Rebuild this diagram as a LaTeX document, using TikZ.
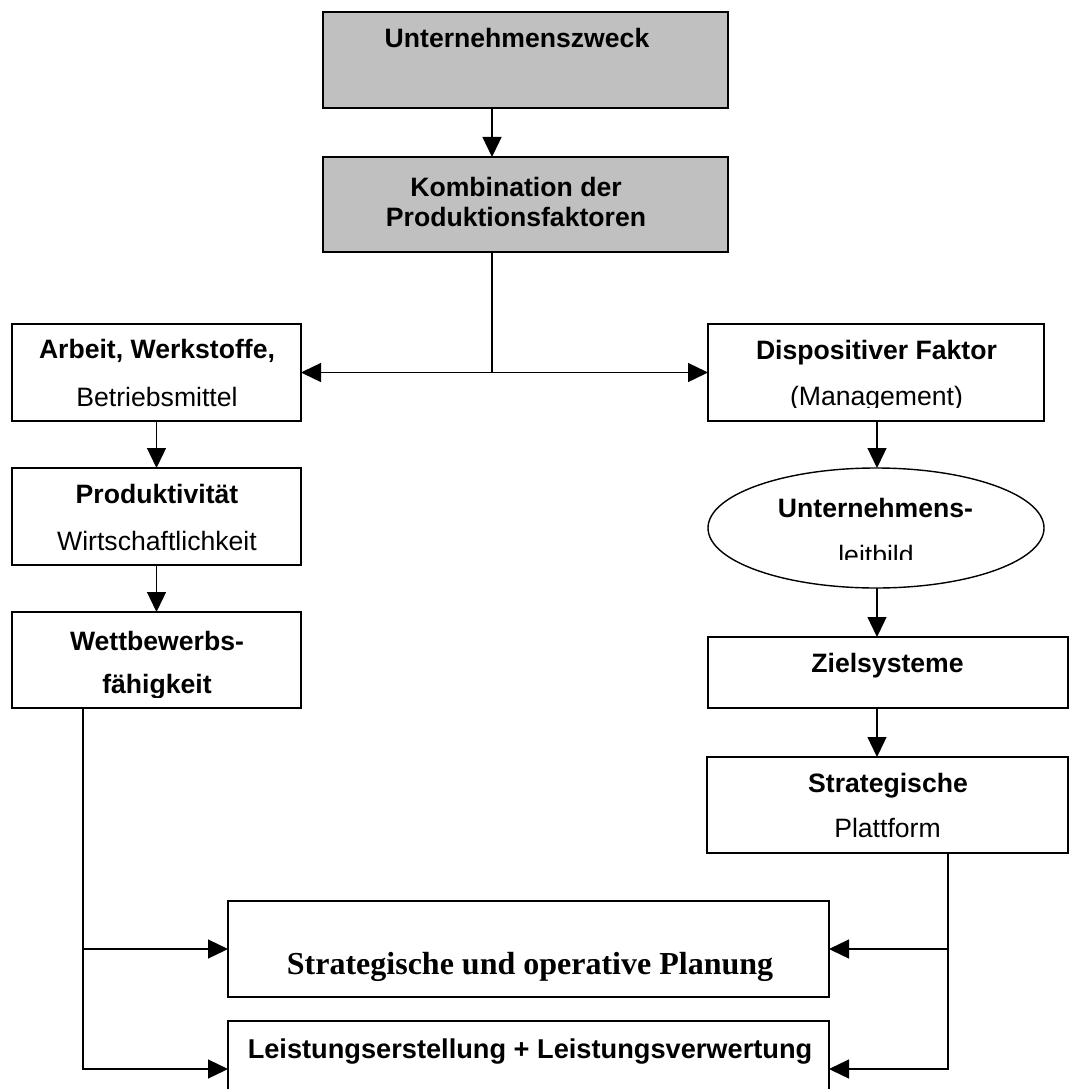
\documentclass[tikz,border=0pt]{standalone}
\usepackage{fontspec}
\setmainfont{Liberation Sans}
\newfontfamily\timesf{Liberation Serif}
\usetikzlibrary{arrows.meta,shapes.geometric}
\begin{document}
\begin{tikzpicture}[x=1pt,y=-1pt,
  boxstyle/.style={draw,line width=1.7pt,rectangle,inner sep=0pt,outer sep=0pt},
  greybox/.style={boxstyle,fill=boxgrey},
  ovalstyle/.style={draw,line width=1.4pt,ellipse,inner sep=0pt,outer sep=0pt},
  conn/.style={line width=1.3pt},
  arr/.style={conn,-{Triangle[length=20pt,width=19pt]}},
  bt/.style={font=\fontsize{26.6}{30}\selectfont\bfseries,anchor=base,inner sep=0pt},
  rt/.style={font=\fontsize{26.6}{30}\selectfont,anchor=base,inner sep=0pt},
  tt/.style={font=\fontsize{32}{36}\selectfont\timesf\bfseries,anchor=base,inner sep=0pt}
]
\definecolor{boxgrey}{RGB}{192,192,192}
\useasboundingbox (0,0) rectangle (1073,1089);

% boxes
\node[greybox,minimum width=405pt,minimum height=96pt] (zweck) at (525.5,60) {};
\node[greybox,minimum width=405pt,minimum height=95pt] (kombi) at (525.5,204.5) {};
\node[boxstyle,minimum width=289pt,minimum height=97pt] (arbeit) at (156.5,372.5) {};
\node[boxstyle,minimum width=289pt,minimum height=97pt] (prod) at (156.5,516.5) {};
\node[boxstyle,minimum width=289pt,minimum height=96pt] (wett) at (156.5,660) {};
\node[boxstyle,minimum width=336pt,minimum height=97pt] (disp) at (876,372.5) {};
\node[ovalstyle,minimum width=336pt,minimum height=120pt] (leit) at (876,528) {};
\node[boxstyle,minimum width=360pt,minimum height=71pt] (ziel) at (888,672.5) {};
\node[boxstyle,minimum width=361pt,minimum height=96pt] (strat) at (887.5,805) {};
\node[boxstyle,minimum width=601pt,minimum height=96pt] (plan) at (528.5,949) {};
\node[boxstyle,minimum width=601pt,minimum height=96pt] (leist) at (528.5,1069) {};

% texts
\node[bt] (t1) at (517,48) {Unternehmenszweck};
\node[bt] (t2) at (516,196) {Kombination der};
\node[bt] (t3) at (516,226) {Produktionsfaktoren};
\node[bt] (t4) at (157,358) {Arbeit, Werkstoffe,};
\node[rt] (t5) at (157,406) {Betriebsmittel};
\node[bt] (t6) at (157,503) {Produktivität};
\node[rt] (t7) at (157,550) {Wirtschaftlichkeit};
\node[bt] (t8) at (157,650) {Wettbewerbs-};
\begin{scope}
  \clip (20,660) rectangle (290,697);
  \node[bt] (t9) at (157,693) {fähigkeit};
\end{scope}
\node[bt] (t10) at (876.5,359) {Dispositiver Faktor};
\begin{scope}
  \clip (720,370) rectangle (1030,407);
  \node[rt] (t11) at (876.5,405) {(Management)};
\end{scope}
\node[bt] (t12) at (875.5,517) {Unternehmens-};
\begin{scope}
  \clip (720,520) rectangle (1030,559);
  \node[rt] (t13) at (876,564) {leitbild};
\end{scope}
\node[bt] (t14) at (887.5,672) {Zielsysteme};
\node[bt] (t15) at (888,792) {Strategische};
\node[rt] (t16) at (887.5,837) {Plattform};
\node[tt] (t17) at (530,974) {Strategische und operative Planung};
\node[bt,font=\fontsize{27.2}{30}\selectfont\bfseries] (t18) at (530,1058) {Leistungserstellung + Leistungsverwertung};

% helper coordinates
\coordinate (cx) at (492,0);
\coordinate (dx) at (877,0);
\coordinate (lx) at (83,0);
\coordinate (rx) at (948,0);
\coordinate (j) at (492,372.5);

% connectors
\draw[arr] (cx |- zweck.south) -- (cx |- kombi.north);
\draw[conn] (cx |- kombi.south) -- (j);
\draw[arr] (j) -- (arbeit.east);
\draw[arr] (j) -- (disp.west);
\draw[arr] (arbeit.south) -- (prod.north);
\draw[arr] (prod.south) -- (wett.north);
\draw[arr] (dx |- disp.south) -- (dx |- leit.north);
\draw[arr] (dx |- leit.south) -- (dx |- ziel.north);
\draw[arr] (dx |- ziel.south) -- (dx |- strat.north);
\draw[arr] (lx |- wett.south) -- (lx |- leist.west) -- (leist.west);
\draw[arr] (lx |- plan.west) -- (plan.west);
\draw[arr] (rx |- strat.south) -- (rx |- leist.east) -- (leist.east);
\draw[arr] (rx |- plan.east) -- (plan.east);
\end{tikzpicture}
\end{document}
